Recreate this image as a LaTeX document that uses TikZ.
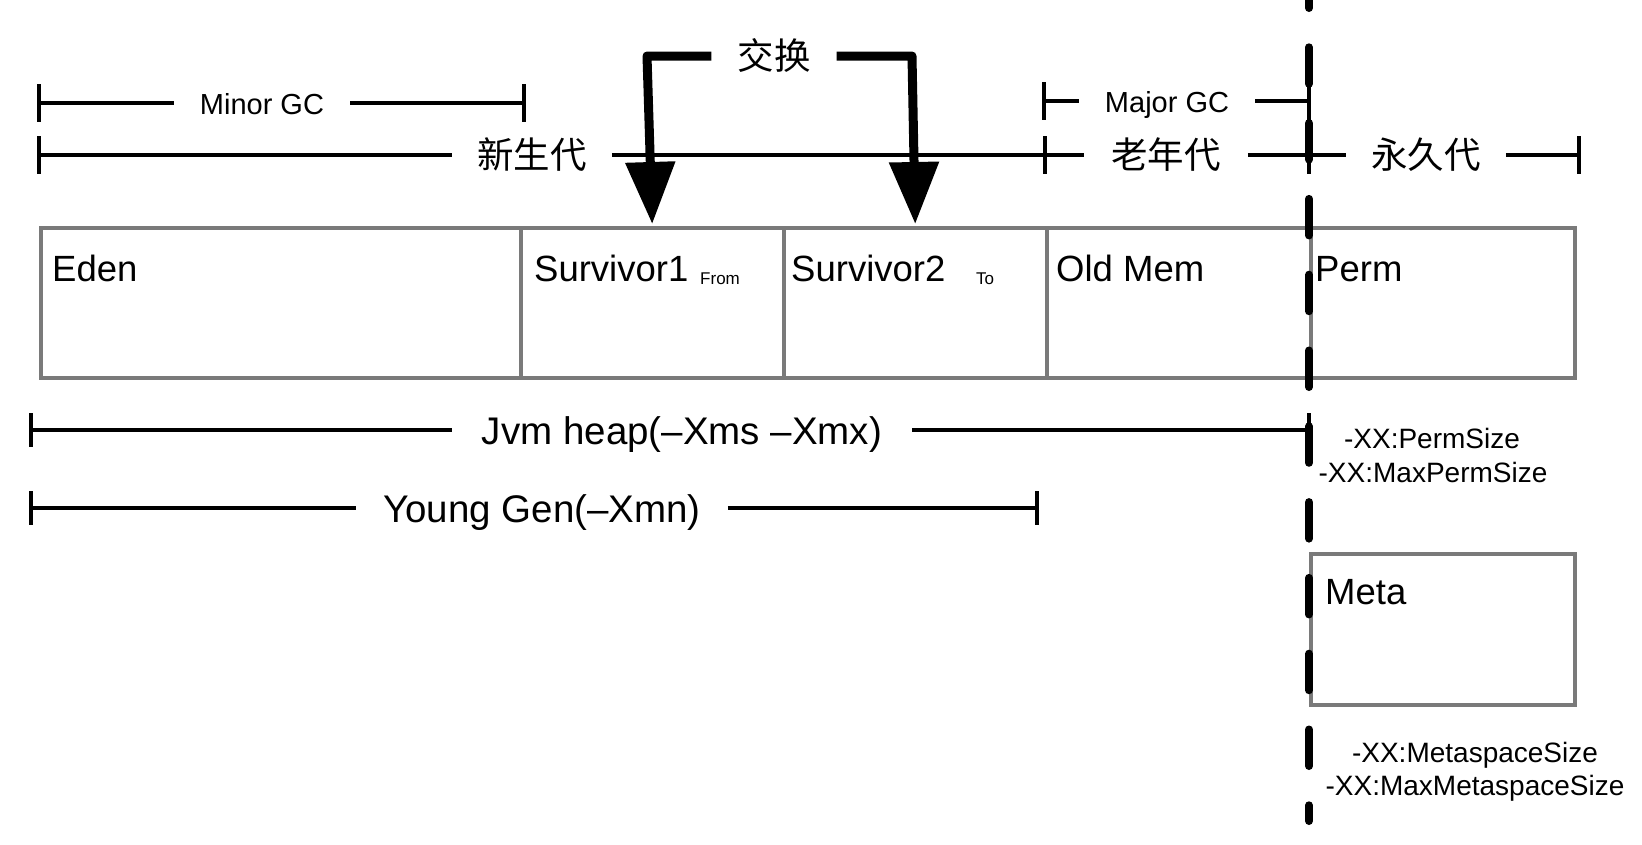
\documentclass[tikz,border=0pt]{standalone}
\usepackage{fontspec}
\setmainfont{Liberation Sans}
\newfontfamily\cjk{Noto Sans CJK SC}
\usetikzlibrary{arrows.meta,calc}
\definecolor{cellgray}{RGB}{122,122,122}
\tikzset{
  cell/.style={draw=cellgray, line width=3.5pt, inner sep=0pt, anchor=north west},
  celltext/.style={inner sep=0pt, anchor=base west, font=\fontsize{36.5}{40}\selectfont},
  subtext/.style={inner sep=0pt, anchor=base west, font=\fontsize{17}{20}\selectfont},
  dimline/.style={line width=4pt},
  tickline/.style={line width=4pt},
  cjklbl/.style={inner ysep=0pt, anchor=base, font=\cjk\fontsize{36.5}{40}\selectfont},
  gclbl/.style={inner ysep=0pt, anchor=base, font=\fontsize{29}{32}\selectfont},
  biglbl/.style={inner ysep=0pt, anchor=base, font=\fontsize{38.5}{42}\selectfont},
  sidelbl/.style={inner sep=0pt, anchor=base, font=\fontsize{28}{32}\selectfont},
  swaparrow/.style={line width=9pt, line join=round, -{Triangle[width=48pt,length=62pt]}, shorten >=2pt},
  dashline/.style={line width=8pt, line cap=round, dash pattern=on 36.5pt off 39.3pt, dash phase=28.5pt}
}
\begin{document}
\begin{tikzpicture}[x=1pt,y=-1pt]
\useasboundingbox (0,0) rectangle (1642,844);
\fill[white] (0,0) rectangle (1642,844);

% memory cells
\node[cell, minimum width=480pt, minimum height=150pt] (eden) at (39,226) {};
\node[cell, minimum width=263pt, minimum height=150pt] (sone) at (519,226) {};
\node[cell, minimum width=263pt, minimum height=150pt] (stwo) at (782,226) {};
\node[cell, minimum width=264pt, minimum height=150pt] (old) at (1045,226) {};
\node[cell, minimum width=264pt, minimum height=150pt] (perm) at (1309,226) {};
\node[cell, minimum width=264pt, minimum height=151pt] (meta) at (1309,552) {};

\node[celltext] (edent) at (52,281) {Eden};
\node[celltext] (sonet) at (534,281) {Survivor1};
\node[subtext] (fromt) at (700,284) {From};
\node[celltext] (stwot) at (791,281) {Survivor2};
\node[subtext] (tot) at (976,284) {To};
\node[celltext] (oldt) at (1056,281) {Old Mem};
\node[celltext] (permt) at (1315,281) {Perm};
\node[celltext] (metat) at (1325,604) {Meta};

% Minor GC
\coordinate (mga) at (39,103);
\coordinate (mgb) at (524,103);
\node[gclbl, inner xsep=26pt] (mgl) at (262,114) {Minor GC};
\draw[dimline] (mga) -- (mga -| mgl.west);
\draw[dimline] (mgb -| mgl.east) -- (mgb);
\draw[tickline] ($(mga)+(0,-19)$) -- ($(mga)+(0,19)$);
\draw[tickline] ($(mgb)+(0,-19)$) -- ($(mgb)+(0,19)$);

% Major GC
\coordinate (jga) at (1044,101);
\coordinate (jgb) at (1309,101);
\node[gclbl, inner xsep=26pt] (jgl) at (1167,112) {Major GC};
\draw[dimline] (jga) -- (jga -| jgl.west);
\draw[dimline] (jgb -| jgl.east) -- (jgb);
\draw[tickline] ($(jga)+(0,-19)$) -- ($(jga)+(0,19)$);
\draw[tickline] ($(jgb)+(0,-19)$) -- ($(jgb)+(0,19)$);

% generations row
\coordinate (xa) at (39,155);
\coordinate (xb) at (1045,155);
\coordinate (xc) at (1309,155);
\coordinate (xd) at (1579,155);
\node[cjklbl, inner xsep=25pt] (xsl) at (532,168) {新生代};
\node[cjklbl, inner xsep=27pt] (lnl) at (1166,168) {老年代};
\node[cjklbl, inner xsep=25pt] (yjl) at (1426,168) {永久代};
\draw[dimline] (xa) -- (xa -| xsl.west);
\draw[dimline] (xb -| xsl.east) -- (xb);
\draw[dimline] (xb) -- (xb -| lnl.west);
\draw[dimline] (xc -| lnl.east) -- (xc);
\draw[dimline] (xc) -- (xc -| yjl.west);
\draw[dimline] (xd -| yjl.east) -- (xd);
\foreach \p in {xa,xb,xc,xd}
  \draw[tickline] ($(\p)+(0,-19)$) -- ($(\p)+(0,19)$);

% Jvm heap
\coordinate (ha) at (31,430);
\coordinate (hb) at (1309,430);
\node[biglbl, inner xsep=30pt] (hl) at (682,444) {Jvm heap(–Xms –Xmx)};
\draw[dimline] (ha) -- (ha -| hl.west);
\draw[dimline] (hb -| hl.east) -- (hb);
\draw[tickline] ($(ha)+(0,-17)$) -- ($(ha)+(0,17)$);
\draw[tickline] ($(hb)+(0,-17)$) -- ($(hb)+(0,17)$);

% Young Gen
\coordinate (ya) at (31,508);
\coordinate (yb) at (1037,508);
\node[biglbl, inner xsep=27pt] (yl) at (542,522) {Young Gen(–Xmn)};
\draw[dimline] (ya) -- (ya -| yl.west);
\draw[dimline] (yb -| yl.east) -- (yb);
\draw[tickline] ($(ya)+(0,-17)$) -- ($(ya)+(0,17)$);
\draw[tickline] ($(yb)+(0,-17)$) -- ($(yb)+(0,17)$);

% swap arrows
\coordinate (swy) at (0,56);
\node[cjklbl, inner xsep=26pt] (swl) at (774,69) {交换};
\draw[swaparrow] (swy -| swl.west) -- (647,56) -- (sone.north);
\draw[swaparrow] (swy -| swl.east) -- (912,56) -- (stwo.north);

% side labels
\node[sidelbl] (ps) at (1432,448) {-XX:PermSize};
\node[sidelbl] (mps) at (1433,482) {-XX:MaxPermSize};
\node[sidelbl] (ms) at (1475,762) {-XX:MetaspaceSize};
\node[sidelbl] (mms) at (1475,795) {-XX:MaxMetaspaceSize};

% dashed boundary
\coordinate (dtop) at (1309,0);
\coordinate (dbot) at (1309,821);
\draw[dashline] (dtop) -- (dbot);
\end{tikzpicture}
\end{document}
